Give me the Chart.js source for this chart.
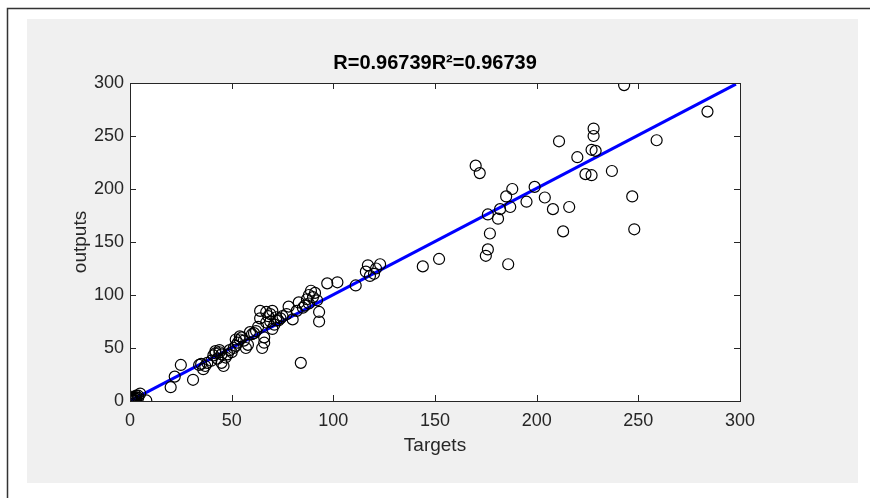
<!DOCTYPE html>
<html>
<head>
<meta charset="utf-8">
<script src="https://cdn.jsdelivr.net/npm/chart.js@4/dist/chart.umd.min.js"></script>
<style>
  html, body { margin: 0; padding: 0; background: #fff; }
  #wrap { width: 870px; height: 498px; position: relative; }
</style>
</head>
<body>
<div id="wrap"><canvas id="myChart" width="870" height="498"></canvas></div>
<script>
// targets (x) and network outputs (y)
var targets = [0, 0.5, 1, 1, 1.5, 2, 2, 0.5, 3, 2.5, 3, 1, 4, 5, 8, 4,
  20, 22, 25, 31, 34, 35, 36, 37, 38, 40, 41, 42, 43, 44, 45, 45, 46, 47, 48, 49,
  50, 51, 52, 53, 54, 55, 56, 57, 58, 60, 61, 62, 63, 64, 64, 65, 66, 66, 67, 68,
  69, 70, 70, 71, 72, 73, 74, 75, 77, 78, 80, 82, 83, 84, 85, 87, 88, 89, 90, 91,
  92, 93, 93, 97, 102, 111, 116, 117, 118, 120, 121, 123, 144, 152,
  170, 172, 175, 176, 177, 176, 181, 182, 185, 187, 186, 188, 195, 199, 204, 208,
  211, 213, 216, 220, 224, 227, 227, 228, 228, 229, 237, 243, 247, 248, 259, 284,
  42, 44, 52, 54, 59, 67, 69, 72, 86, 88];
var outputs = [0, 1, 0.5, 2, 1, 3, 1, 2.5, 2, 4, 5, 4, 3, 7, 0.5, 5,
  13, 23, 34, 20, 34, 35, 30, 33, 36, 38, 43, 45, 40, 46, 44, 36, 33, 41, 44, 48,
  46, 50, 52, 55, 58, 60, 57, 50, 53, 63, 64, 66, 70, 78, 85, 50, 55, 60, 84, 80,
  75, 85, 68, 72, 79, 76, 78, 80, 82, 89, 77, 85, 93, 36, 88, 96, 100, 104, 98, 102,
  95, 84, 75, 111, 112, 109, 122, 128, 118, 120, 125, 129, 127, 134,
  222, 215, 137, 143, 158, 176, 172, 181, 193, 183, 129, 200, 188, 202, 192, 181,
  245, 160, 183, 230, 214, 237, 213, 257, 250, 236, 217, 298, 193, 162, 246, 273,
  47, 48, 58, 61, 65, 74, 82, 76, 90, 92];
var fitLine = [[0, 0], [298, 299]];
var tickValues = [0, 50, 100, 150, 200, 250, 300];
var titleText = "R=0.96739R\u00b2=0.96739";

var axisColor = "#262626";
var fontFam = "Liberation Sans, Arial, sans-serif";

var points = targets.map(function (t, i) { return {x: t, y: outputs[i]}; });
var linePts = fitLine.map(function (p) { return {x: p[0], y: p[1]}; });
var fixedTicks = function (s) { s.ticks = tickValues.map(function (v) { return {value: v}; }); };

// gray figure panel + frame behind everything
var background = {
  id: "background",
  beforeDraw: function (chart) {
    var c = chart.ctx;
    c.save();
    c.fillStyle = "#fff";
    c.fillRect(0, 0, 870, 498);
    c.fillStyle = "#f0f0f0";
    c.fillRect(27, 19, 831, 464);
    c.strokeStyle = "#333";
    c.lineWidth = 1.5;
    c.beginPath();
    c.moveTo(7.5, 498);
    c.lineTo(7.5, 8.5);
    c.lineTo(870, 8.5);
    c.stroke();
    var a = chart.chartArea;
    c.fillStyle = "#fff";
    c.fillRect(a.left, a.top, a.right - a.left, a.bottom - a.top);
    c.restore();
  },
  afterDatasetsDraw: function (chart) {
    // box and inward tick marks like MATLAB axes
    var c = chart.ctx, a = chart.chartArea;
    var xs = chart.scales.x, ys = chart.scales.y;
    c.save();
    c.strokeStyle = axisColor;
    c.lineWidth = 1;
    c.strokeRect(a.left + 0.5, a.top + 0.5, a.right - a.left, a.bottom - a.top);
    c.beginPath();
    tickValues.forEach(function (v) {
      var px = Math.round(xs.getPixelForValue(v)) + 0.5;
      c.moveTo(px, a.bottom); c.lineTo(px, a.bottom - 6);
      c.moveTo(px, a.top); c.lineTo(px, a.top + 6);
      var py = Math.round(ys.getPixelForValue(v)) + 0.5;
      c.moveTo(a.left, py); c.lineTo(a.left + 6, py);
      c.moveTo(a.right, py); c.lineTo(a.right - 6, py);
    });
    c.stroke();
    c.restore();
  }
};

new Chart("myChart", {
  type: "scatter",
  data: {
    datasets: [{
      type: "line",
      data: linePts,
      borderColor: "#0000ff",
      borderWidth: 3,
      pointRadius: 0,
      fill: false,
      order: 2
    }, {
      data: points,
      pointRadius: 5.5,
      pointBorderWidth: 1.2,
      borderColor: "#000",
      backgroundColor: "rgba(0,0,0,0)",
      order: 1
    }]
  },
  plugins: [background],
  options: {
    responsive: false,
    animation: false,
    layout: {padding: 0},
    plugins: {
      legend: {display: false},
      tooltip: {enabled: false},
      title: {
        display: true,
        text: titleText,
        color: "#000",
        font: {family: fontFam, size: 20, weight: "bold"},
        padding: {top: 51, bottom: 8}
      }
    },
    scales: {
      x: {
        type: "linear", min: 0, max: 300,
        grid: {display: false, drawTicks: false},
        border: {display: false},
        afterFit: function (s) { s.height = 97; },
        afterBuildTicks: fixedTicks,
        ticks: {color: axisColor, padding: 9, maxRotation: 0, font: {family: fontFam, size: 18}},
        title: {display: true, text: "Targets", color: axisColor,
                font: {family: fontFam, size: 19}, padding: {top: 0, bottom: 41}}
      },
      y: {
        type: "linear", min: 0, max: 300,
        grid: {display: false, drawTicks: false},
        border: {display: false},
        afterFit: function (s) { s.width = 130; },
        afterBuildTicks: fixedTicks,
        ticks: {color: axisColor, padding: 6, font: {family: fontFam, size: 18}},
        title: {display: true, text: "outputs", color: axisColor,
                font: {family: fontFam, size: 19}, padding: {top: 69, bottom: 0}}
      },
      // empty right-hand scale that only reserves the margin beside the axes
      yRight: {
        type: "linear", position: "right", min: 0, max: 300,
        grid: {display: false, drawTicks: false},
        border: {display: false},
        ticks: {display: false},
        afterFit: function (s) { s.width = 130; }
      }
    }
  }
});
</script>
</body>
</html>
